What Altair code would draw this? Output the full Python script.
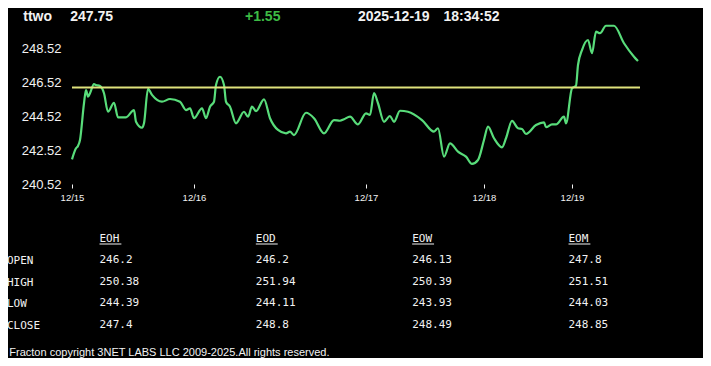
import altair as alt
import pandas as pd

# ---------------- data ----------------
header_symbol = "ttwo"
header_last = "247.75"
header_change = "+1.55"
header_date = "2025-12-19"
header_time = "18:34:52"
prev_close = 246.2

# sample index along the intraday series and price at that sample
sample_idx = [0, 2, 3, 4, 6, 7, 8, 9, 11, 12, 14, 16, 18, 21, 23, 25, 27, 31, 32, 35,
              36, 38, 40, 45, 49, 54, 57, 59, 61, 65, 67, 69, 71, 72, 74, 76, 77, 79, 82, 86,
              88, 90, 92, 96, 99, 103, 107, 109, 111, 117, 121, 126, 131, 134, 136, 139, 143, 147, 149, 151,
              153, 156, 159, 161, 164, 168, 175, 181, 183, 186, 189, 193, 197, 200, 203, 206, 208, 211, 215, 217,
              220, 223, 225, 227, 232, 236, 237, 240, 242, 246, 247, 250, 252, 253, 255, 258, 260, 262, 264, 267,
              271, 276, 281, 283]
prices = [241.97, 242.62, 242.76, 243.11, 245.27, 246.05, 245.66, 245.86, 246.39, 246.34,
          246.28, 245.86, 244.77, 245.30, 244.44, 244.44, 244.44, 244.87, 244.18, 243.83,
          244.09, 246.11, 245.76, 245.36, 245.52, 245.36, 244.87, 244.97, 244.39, 244.97,
          244.39, 245.07, 245.36, 246.34, 246.83, 246.34, 245.36, 245.07, 244.09, 244.77,
          244.48, 245.07, 244.81, 245.50, 244.39, 243.70, 243.50, 243.60, 243.40, 244.71,
          244.39, 243.50, 244.28, 244.24, 244.33, 244.48, 244.03, 244.68, 244.58, 245.86,
          245.27, 244.18, 244.52, 244.18, 244.83, 244.77, 244.28, 243.60, 243.80, 242.13,
          242.91, 242.42, 242.13, 241.70, 241.93, 243.11, 243.89, 243.21, 242.68, 243.21,
          244.23, 243.80, 243.76, 243.46, 243.99, 244.15, 243.86, 244.03, 244.03, 244.48,
          244.09, 246.15, 246.30, 247.52, 248.40, 248.99, 248.21, 249.48, 249.39, 249.83,
          249.83, 248.80, 248.01, 247.75]

date_tick_idx = [0, 61, 147, 206, 250]
date_tick_labels = ["12/15", "12/16", "12/17", "12/18", "12/19"]
y_ticks = [240.52, 242.52, 244.52, 246.52, 248.52]

table_cols = ["EOH", "EOD", "EOW", "EOM"]
table_rows = ["OPEN", "HIGH", "LOW", "CLOSE"]
eoh_vals = [246.2, 250.38, 244.39, 247.4]
eod_vals = [246.2, 251.94, 244.11, 248.8]
eow_vals = [246.13, 250.39, 243.93, 248.49]
eom_vals = [247.8, 251.51, 244.03, 248.85]

footer_text = "Fracton copyright 3NET LABS LLC 2009-2025.All rights reserved."

# ---------------- styles ----------------
BG = "#000000"
WHITE = "#f2f2f2"
LINE_GREEN = "#58dc7a"
REF_YELLOW = "#dfe27c"
CHANGE_GREEN = "#3dbb45"
SANS = "Liberation Sans"
MONO = "DejaVu Sans Mono"

W, H = 568, 170

price_df = pd.DataFrame({"i": sample_idx, "p": prices})
ref_df = pd.DataFrame({"p": [prev_close]})

label_expr = " : ".join(
    f"datum.value == {v} ? '{l}'" for v, l in zip(date_tick_idx, date_tick_labels)
) + " : ''"

xscale = alt.Scale(domain=[0, 284], nice=False, zero=False)
yscale = alt.Scale(domain=[240.52, 250.52], nice=False, zero=False)

line = alt.Chart(price_df).mark_line(
    color=LINE_GREEN, strokeWidth=2.2, interpolate="monotone"
).encode(
    x=alt.X("i:Q", scale=xscale, title=None,
            axis=alt.Axis(values=date_tick_idx, labelExpr=label_expr, domain=False,
                          grid=False, ticks=True, tickSize=4, tickColor=WHITE, tickWidth=1,
                          labelColor=WHITE, labelFont=SANS, labelFontSize=9.5,
                          labelPadding=4, labelFlush=False, labelOverlap=False)),
    y=alt.Y("p:Q", scale=yscale, title=None,
            axis=alt.Axis(values=y_ticks, format=".2f", domain=False, grid=False,
                          ticks=False, tickSize=0, labelColor=WHITE, labelFont=SANS,
                          labelFontSize=13, labelPadding=11, labelFlush=False,
                          labelOverlap=False)),
)

rule = alt.Chart(ref_df).mark_rule(color=REF_YELLOW, strokeWidth=2).encode(
    y=alt.Y("p:Q", scale=yscale)
)

price_layer = alt.layer(line, rule)

# ---------------- table ----------------
col_vals = [eoh_vals, eod_vals, eow_vals, eom_vals]
cells = []
for ci, (c, vals) in enumerate(zip(table_cols, col_vals)):
    cells.append({"ci": ci, "ri": 0, "txt": c})
    for ri, v in enumerate(vals):
        cells.append({"ci": ci, "ri": ri + 1, "txt": str(v)})
cells_df = pd.DataFrame(cells)
rowlab_df = pd.DataFrame({"ri": list(range(1, len(table_rows) + 1)), "txt": table_rows})
under_df = pd.DataFrame({"ci": list(range(len(table_cols)))})

tx = alt.Scale(domain=[0, 3], range=[27.5, 496.5])
ty = alt.Scale(domain=[0, 4], range=[224.5, 310.5])

cell_text = alt.Chart(cells_df).mark_text(
    align="left", baseline="middle", font=MONO, fontSize=11, color=WHITE
).encode(
    x=alt.X("ci:Q", scale=tx, axis=None),
    y=alt.Y("ri:Q", scale=ty, axis=None),
    text="txt:N",
)

row_text = alt.Chart(rowlab_df).mark_text(
    align="left", baseline="middle", font=MONO, fontSize=11, color=WHITE, dy=1
).encode(
    x=alt.value(-65),
    y=alt.Y("ri:Q", scale=ty, axis=None),
    text="txt:N",
)

underline = alt.Chart(under_df).transform_calculate(
    ce="datum.ci + 0.14"
).mark_rule(color=WHITE, strokeWidth=1).encode(
    x=alt.X("ci:Q", scale=tx, axis=None),
    x2="ce:Q",
    y=alt.value(230),
)

# ---------------- header / footer ----------------
def label(txt, x, y, color=WHITE, size=14, weight="bold", font=SANS):
    return alt.Chart(pd.DataFrame({"t": [txt]})).mark_text(
        align="left", baseline="alphabetic", font=font, fontSize=size,
        fontWeight=weight, color=color
    ).encode(x=alt.value(x), y=alt.value(y), text="t:N")

hy = 7
head = [
    label(header_symbol, -48.7, hy),
    label(header_last, -1.7, hy),
    label(header_change, 173, hy, color=CHANGE_GREEN),
    label(header_date, 286, hy),
    label(header_time, 371.5, hy),
]
foot = label(footer_text, -62.7, 341.5, size=11, weight="normal")

chart = alt.layer(
    price_layer, cell_text, row_text, underline, *head, foot
).resolve_scale(
    x="independent", y="independent"
).properties(
    width=W, height=H,
    autosize=alt.AutoSizeParams(type="none"),
    padding={"left": 64, "top": 6, "right": 63, "bottom": 174},
    background=BG,
).configure_view(stroke=None)

chart.save("out.html", embed_options={"renderer": "svg", "actions": False})
